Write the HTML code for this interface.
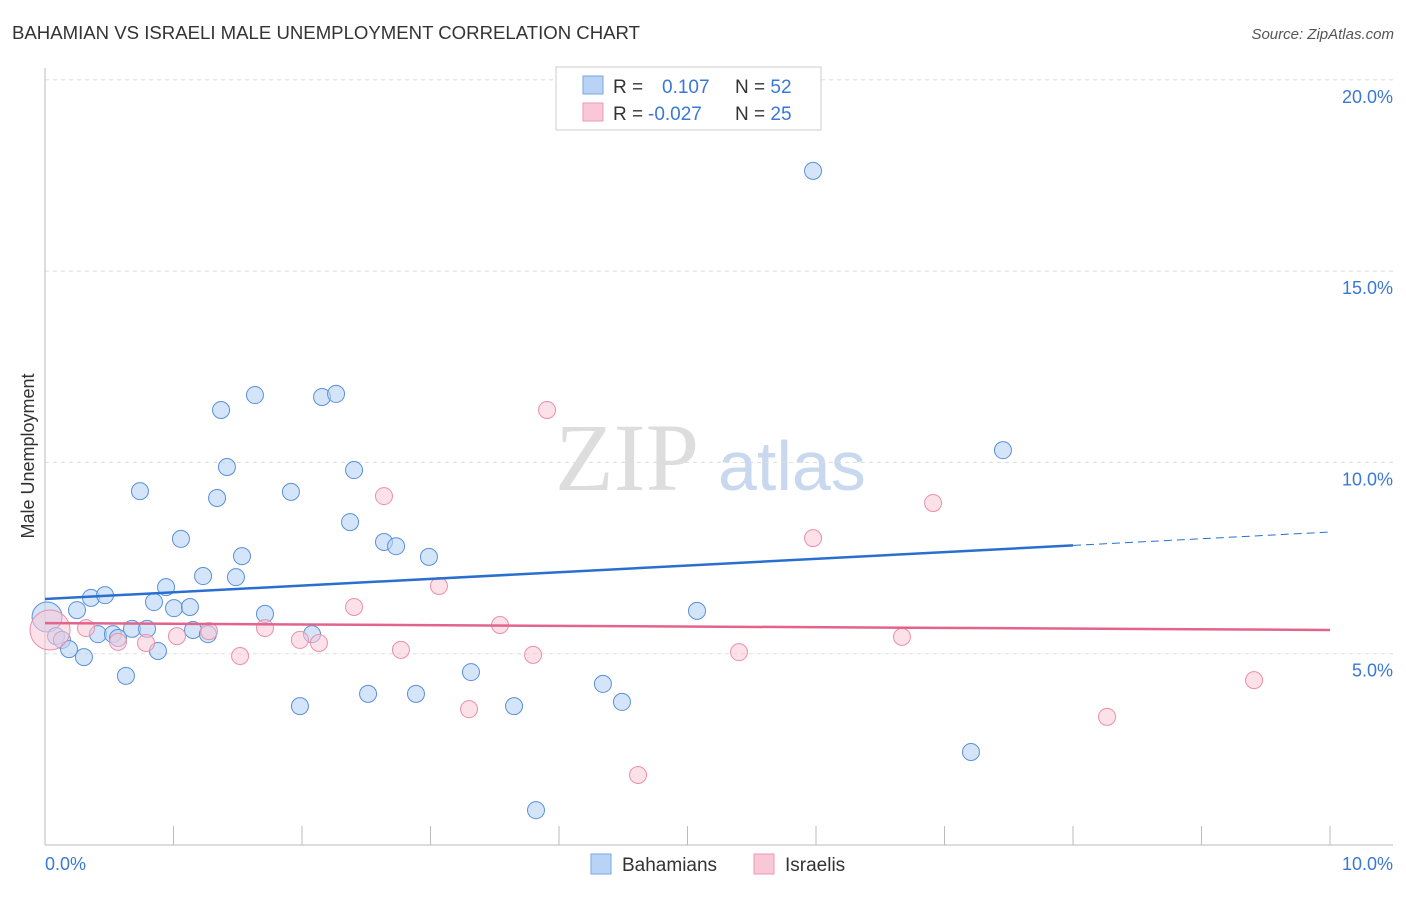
<!DOCTYPE html>
<html><head><meta charset="utf-8"><style>
body{margin:0;background:#fff;font-family:"Liberation Sans",sans-serif;}
</style></head><body>
<svg width="1406" height="892" xmlns="http://www.w3.org/2000/svg" id="svg">
<text x="12" y="39" font-size="18" fill="#333" textLength="628" lengthAdjust="spacingAndGlyphs">BAHAMIAN VS ISRAELI MALE UNEMPLOYMENT CORRELATION CHART</text>
<text x="1394" y="39" font-size="15" fill="#555" font-style="italic" text-anchor="end">Source: ZipAtlas.com</text>
<text x="34" y="456" font-size="18" fill="#333" text-anchor="middle" transform="rotate(-90 34 456)">Male Unemployment</text>
<text x="555" y="490" font-size="96" fill="#ddd" font-family="Liberation Serif, serif">ZIP</text>
<text x="718" y="490" font-size="70" fill="#c8d8ee">atlas</text>
<g id="grid"></g>
<g id="marks"></g>
<g>
<rect x="556" y="67" width="265" height="63" fill="#fff" stroke="#ccc"/>
<rect x="583" y="76" width="20" height="18" fill="#b8d3f5" stroke="#7aa7e0"/>
<rect x="583" y="103" width="20" height="18" fill="#f9c8d6" stroke="#eb9ab3"/>
<text x="613" y="93" font-size="19" fill="#333">R = <tspan x="662" fill="#3a78d6">0.107</tspan><tspan x="735" fill="#333">N = </tspan><tspan fill="#3a78d6">52</tspan></text>
<text x="613" y="120" font-size="19" fill="#333">R = <tspan x="648" fill="#3a78d6">-0.027</tspan><tspan x="735" fill="#333">N = </tspan><tspan fill="#3a78d6">25</tspan></text>
</g>
<g>
<rect x="591" y="854" width="20" height="20" fill="#b8d3f5" stroke="#7aa7e0"/>
<text x="622" y="871" font-size="19" fill="#333">Bahamians</text>
<rect x="754" y="854" width="20" height="20" fill="#f9c8d6" stroke="#eb9ab3"/>
<text x="785" y="871" font-size="19" fill="#333">Israelis</text>
</g>
<text x="45" y="870" font-size="18" fill="#3a78d6">0.0%</text>
<text x="1393" y="870" font-size="18" fill="#3a78d6" text-anchor="end">10.0%</text>
</svg>
<script>
const yTicks=[5,10,15,20];
const yTickLabels=["5.0%","10.0%","15.0%","20.0%"];
const bahX=[0.016,0.086,0.132,0.187,0.249,0.303,0.358,0.412,0.467,0.529,0.568,0.630,0.677,0.739,0.794,0.848,0.879,0.942,1.004,1.058,1.128,1.152,1.230,1.268,1.339,1.370,1.416,1.486,1.533,1.634,1.712,1.914,1.984,2.078,2.156,2.265,2.374,2.405,2.514,2.638,2.732,2.887,2.988,3.315,3.650,3.821,4.342,4.490,5.074,5.977,7.206,7.455];
const bahY=[5.96,5.46,5.36,5.12,6.14,4.91,6.46,5.51,6.53,5.51,5.41,4.42,5.65,9.25,5.65,6.35,5.07,6.74,6.19,8.00,6.22,5.62,7.03,5.51,9.07,11.37,9.88,7.00,7.55,11.76,6.04,9.23,3.63,5.51,11.71,11.79,8.44,9.80,3.95,7.92,7.81,3.95,7.53,4.52,3.63,0.91,4.21,3.74,6.12,17.62,2.43,10.32];
const isrX=[0.039,0.319,0.568,0.786,1.027,1.276,1.518,1.712,1.984,2.132,2.405,2.638,2.770,3.066,3.300,3.541,3.798,3.907,4.615,5.401,5.977,6.669,6.911,8.265,9.409];
const isrY=[5.62,5.67,5.31,5.28,5.46,5.59,4.94,5.67,5.36,5.28,6.22,9.12,5.10,6.77,3.55,5.75,4.97,11.37,1.83,5.04,8.02,5.44,8.94,3.35,4.31];
const bahTrend=[6.43,8.18];
const bahSolidEnd=8.0;
const isrTrend=[5.80,5.62];
const NS="http://www.w3.org/2000/svg";
const sx=v=>45+v*128.5, sy=v=>845-v*38.26;
function mk(t,a,p){const e=document.createElementNS(NS,t);for(const k in a)e.setAttribute(k,a[k]);p.appendChild(e);return e;}
const grid=document.getElementById('grid'), marks=document.getElementById('marks');
yTicks.forEach((t,i)=>{
 const l=mk('line',{x1:45,x2:1393,y1:sy(t),y2:sy(t),stroke:'#ddd','stroke-dasharray':'4,4'},grid);
 
 
 const tx=mk('text',{x:1393,y:sy(t)+23,'font-size':18,fill:'#3a78d6','text-anchor':'end'},grid);
 tx.textContent=yTickLabels[i];
 
 
});
mk('line',{x1:45,x2:45,y1:68,y2:845,stroke:'#bbb'},grid);
mk('line',{x1:45,x2:1393,y1:845,y2:845,stroke:'#bbb'},grid);
for(let i=1;i<=10;i++){const x=sx(i);mk('line',{x1:x,x2:x,y1:826,y2:845,stroke:'#bbb'},grid);}
bahX.forEach((x,i)=>{
 const c=mk('circle',{cx:sx(x),cy:sy(bahY[i]),r:i==0?15:8.5,fill:'#b8d3f5','fill-opacity':0.6,stroke:'#5a90da','stroke-width':1},marks);
 
 
});
isrX.forEach((x,i)=>{
 const c=mk('circle',{cx:sx(x),cy:sy(isrY[i]),r:i==0?20:8.5,fill:'#f9c8d6','fill-opacity':0.55,stroke:'#eb8fab','stroke-width':1},marks);
 
 
});
const by=x=>bahTrend[0]+(bahTrend[1]-bahTrend[0])*x/10;
const b1=mk('line',{x1:sx(0),y1:sy(by(0)),x2:sx(bahSolidEnd),y2:sy(by(bahSolidEnd)),stroke:'#2a6fd0','stroke-width':2.5},marks);


const b2=mk('line',{x1:sx(bahSolidEnd),y1:sy(by(bahSolidEnd)),x2:sx(10),y2:sy(by(10)),stroke:'#2a6fd0','stroke-width':1,'stroke-dasharray':'8,5'},marks);


const p1=mk('line',{x1:sx(0),y1:sy(isrTrend[0]),x2:sx(10),y2:sy(isrTrend[1]),stroke:'#e2648c','stroke-width':2.5},marks);


</script>
</body></html>
